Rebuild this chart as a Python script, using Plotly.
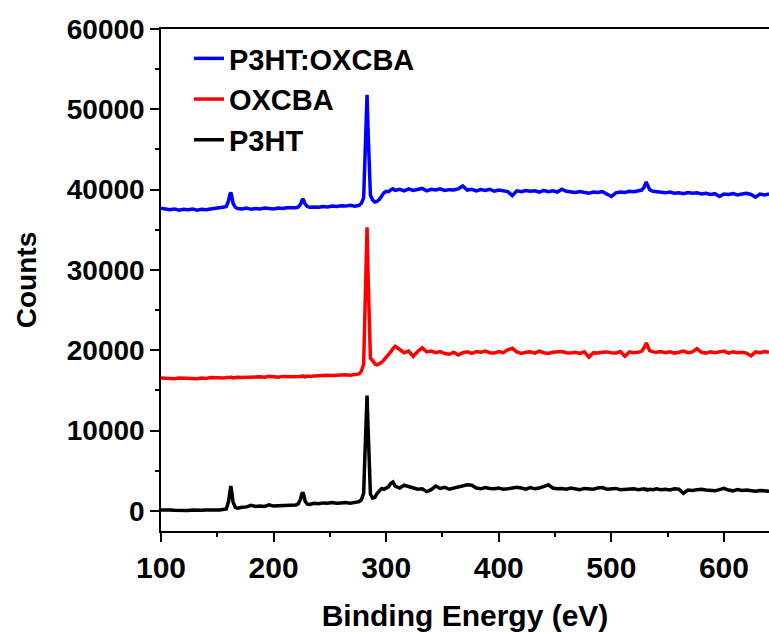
import plotly.graph_objects as go

# Binding energy grid (eV)
energy = (
    [100, 104, 108, 112, 116, 120, 124, 128, 132, 136, 140, 144, 148, 152, 156]
    + [158, 160, 161, 162, 163, 164, 166, 168]
    + [172, 176, 180, 184, 188, 192, 196, 200, 204, 208, 212, 216, 220]
    + [222, 224, 225, 226, 227, 228, 230, 232]
    + [236, 240, 244, 248, 252, 256, 260, 264, 268, 272, 276]
    + [278, 280, 281, 282, 283, 284, 285, 286, 288, 290, 292, 294, 296, 298, 300, 302, 304, 306, 308]
    + [312, 316, 320, 324, 328, 332, 336, 340, 344, 348, 352, 356, 360, 364, 368, 372, 376, 380,
       384, 388, 392, 396, 400, 404, 408, 412, 416, 420, 424, 428, 432, 436, 440, 444, 448, 452,
       456, 460, 464, 468, 472, 476, 480, 484, 488, 492, 496, 500, 504, 508, 512, 516, 520, 524]
    + [527, 529, 530, 531, 532, 534, 537]
    + [540, 544, 548, 552, 556, 560, 564, 568, 572, 576, 580, 584, 588, 592, 596, 600, 604, 608,
       612, 616, 620, 624, 628, 632, 636, 640]
)

p3ht_oxcba = (
    [37700, 37550, 37500, 37600, 37450, 37550, 37500, 37600, 37450, 37550, 37500, 37600, 37650, 37800, 37850]
    + [37900, 38600, 39300, 39650, 39100, 38300, 37800, 37650]
    + [37600, 37700, 37550, 37650, 37600, 37700, 37650, 37600, 37700, 37650, 37750, 37700, 37750]
    + [37850, 38200, 38600, 38850, 38600, 38200, 37900, 37800]
    + [37850, 37800, 37900, 37850, 37950, 37900, 38000, 37950, 38050, 37950, 38050]
    + [38300, 39000, 43000, 49500, 51800, 47000, 41500, 39300, 38700, 38450, 38550, 38800, 39200, 39600,
       39800, 39750, 39950, 40100, 39900]
    + [40050, 39850, 40100, 39900, 40000, 40150, 39850, 40050, 39950, 40100, 39900, 40000, 39950, 40100,
       40450, 39950, 40050, 39850, 40000, 39900, 40050, 39800, 39950, 39850, 39750, 39250, 39850, 39750,
       39900, 39800, 39850, 39700, 39900, 39750, 39850, 39700, 40050, 39800, 39700, 39650, 39750, 39600,
       39550, 39700, 39650, 39750, 39450, 39150, 39600, 39700, 39650, 39800, 39750, 39850]
    + [39950, 40300, 40700, 40950, 40600, 40000, 39800]
    + [39750, 39650, 39600, 39700, 39550, 39600, 39500, 39650, 39550, 39600, 39450, 39550, 39400, 39500,
       39150, 39450, 39400, 39500, 39350, 39450, 39550, 39400, 39050, 39450, 39350, 39450]
)

oxcba = (
    [16550, 16500, 16550, 16450, 16550, 16500, 16550, 16500, 16450, 16550, 16500, 16600, 16550, 16600, 16550]
    + [16600, 16550, 16600, 16650, 16600, 16550, 16600, 16650]
    + [16600, 16650, 16700, 16650, 16700, 16650, 16750, 16700, 16650, 16750, 16700, 16750, 16700]
    + [16750, 16700, 16750, 16800, 16750, 16700, 16800, 16750]
    + [16800, 16850, 16800, 16900, 16850, 16900, 16850, 16950, 16900, 17000, 17050]
    + [17400, 18300, 24000, 33000, 35300, 29000, 21000, 19000, 18700, 18300, 18200, 18350, 18500, 18800,
       19100, 19400, 19800, 20200, 20500]
    + [20100, 19700, 19900, 19250, 19850, 20300, 19800, 19900, 19700, 19850, 19600, 19500, 19750, 19400,
       19700, 19800, 19600, 19850, 19750, 19900, 19700, 19650, 19850, 19700, 20050, 20250, 19800, 19600,
       19750, 19800, 19650, 19900, 19700, 19600, 19750, 19800, 19850, 19700, 19650, 19750, 19600, 19800,
       19150, 19700, 19650, 19750, 19800, 19700, 19650, 19850, 19250, 19800, 19700, 19750]
    + [19900, 20300, 20700, 20900, 20600, 19950, 19800]
    + [19750, 19850, 19700, 19800, 19650, 19750, 19900, 19700, 19800, 20200, 19750, 19650, 19800, 19700,
       19750, 19900, 19650, 19800, 19700, 19750, 19650, 19300, 19800, 19700, 19850, 19750]
)

p3ht = (
    [100, 50, 100, 80, 50, 100, 60, 100, 50, 80, 100, 60, 100, 120, 150]
    + [250, 1200, 2400, 3100, 2200, 1100, 450, 350]
    + [450, 500, 700, 550, 600, 550, 750, 600, 650, 700, 650, 800, 750]
    + [900, 1500, 2100, 2300, 1900, 1200, 850, 800]
    + [950, 900, 1000, 950, 1050, 950, 1000, 1050, 950, 1100, 1150]
    + [1400, 2200, 6500, 12500, 14350, 10000, 4000, 2100, 1600, 1700, 2200, 2500, 2800, 2700,
       2900, 3000, 3400, 3600, 3100]
    + [2850, 3200, 3000, 2900, 2700, 2750, 2400, 2650, 3100, 2800, 2950, 2700, 2850, 2900,
       3050, 3250, 3200, 2850, 2750, 2900, 2800, 2750, 2850, 2700, 2750, 2800, 2950, 2850,
       2700, 2900, 2750, 2850, 3000, 3250, 2850, 2750, 2800, 2700, 2850, 2750, 2650, 2800,
       2750, 2700, 2850, 2900, 2700, 2750, 2800, 2650, 2700, 2800, 2750, 2650]
    + [2700, 2750, 2650, 2700, 2600, 2700, 2650]
    + [2750, 2650, 2700, 2600, 2750, 2700, 2200, 2600, 2550, 2650, 2700, 2600, 2550, 2500,
       2650, 2800, 2600, 2500, 2650, 2550, 2600, 2500, 2450, 2550, 2500, 2450]
)

series_names = ["P3HT:OXCBA", "OXCBA", "P3HT"]
series_colors = ["#0000ff", "#ff0000", "#000000"]
series_values = [p3ht_oxcba, oxcba, p3ht]

FONT = "Liberation Sans, Arial, sans-serif"

fig = go.Figure()
for i, (name, color, vals) in enumerate(zip(series_names, series_colors, series_values)):
    fig.add_trace(go.Scatter(
        x=energy, y=vals, mode="lines", name=name,
        line=dict(color=color, width=3.5),
        legendgroup=f"g{i}",
    ))

axis_common = dict(
    showgrid=False, zeroline=False, showline=True, linecolor="black", linewidth=1.5,
    ticks="outside", ticklen=9, tickwidth=1.5, tickcolor="black",
)

fig.update_layout(
    width=769, height=632,
    margin=dict(l=161, r=0, t=29, b=101),
    paper_bgcolor="white", plot_bgcolor="white",
    font=dict(family=FONT, color="black", weight="bold"),
    showlegend=True,
    legend=dict(
        x=0.046, y=0.992, xanchor="left", yanchor="top",
        bgcolor="rgba(0,0,0,0)", borderwidth=0,
        font=dict(family=FONT, size=29, color="black", weight="bold"),
        tracegroupgap=0, traceorder="grouped",
    ),
    xaxis=dict(
        **axis_common,
        range=[100, 640], tick0=100, dtick=100, mirror=True,
        minor=dict(ticks="outside", ticklen=4, tickwidth=1.5, tickcolor="black", dtick=50),
        tickfont=dict(family=FONT, size=30, color="black", weight="bold"),
        title=dict(text="Binding Energy (eV)", standoff=28,
                   font=dict(family=FONT, size=30, color="black", weight="bold")),
    ),
    yaxis=dict(
        **axis_common,
        range=[-2500, 60000], tick0=0, dtick=10000, tickformat="d",
        minor=dict(ticks="outside", ticklen=4, tickwidth=1.5, tickcolor="black", dtick=5000),
        tickfont=dict(family=FONT, size=28, color="black", weight="bold"),
        title=dict(text="Counts", standoff=22,
                   font=dict(family=FONT, size=28, color="black", weight="bold")),
    ),
)

fig.write_html("out.html")
